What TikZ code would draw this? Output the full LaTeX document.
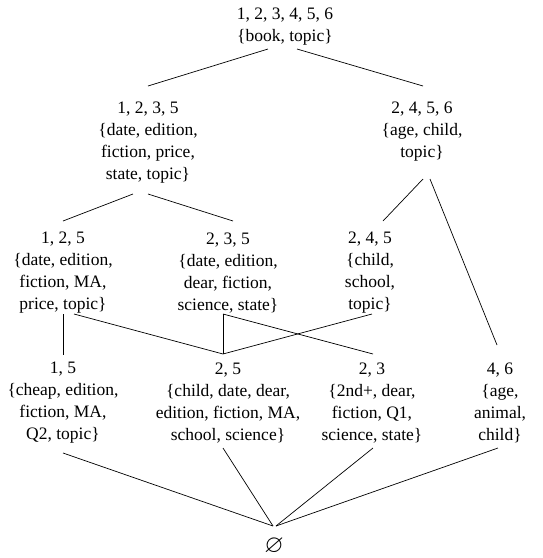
\documentclass[tikz,border=0pt]{standalone}
\usepackage{fontspec}
\usepackage{amssymb}
\setmainfont{Liberation Serif}
\begin{document}
\begin{tikzpicture}[x=1pt,y=-1pt,
  lat/.style={align=center,inner sep=0pt,font=\fontsize{17.5}{22}\selectfont},
  edge/.style={draw=black,line width=0.7pt}]
\useasboundingbox (0,0) rectangle (543,558);
\node[lat] (top) at (285,27) {1, 2, 3, 4, 5, 6\\\{book, topic\}};
\node[lat] (a) at (148,143) {1, 2, 3, 5\\\{date, edition,\\fiction, price,\\state, topic\}};
\node[lat] (b) at (422,132) {2, 4, 5, 6\\\{age, child,\\topic\}};
\node[lat] (c) at (63,273) {1, 2, 5\\\{date, edition,\\fiction, MA,\\price, topic\}};
\node[lat] (d) at (228,273) {2, 3, 5\\\{date, edition,\\dear, fiction,\\science, state\}};
\node[lat] (e) at (370,273) {2, 4, 5\\\{child,\\school,\\topic\}};
\node[lat] (f) at (63,403) {1, 5\\\{cheap, edition,\\fiction, MA,\\Q2, topic\}};
\node[lat] (g) at (228,403) {2, 5\\\{child, date, dear,\\edition, fiction, MA,\\school, science\}};
\node[lat] (h) at (372,403) {2, 3\\\{2nd+, dear,\\fiction, Q1,\\science, state\}};
\node[lat] (i) at (500,403) {4, 6\\\{age,\\animal,\\child\}};
\node[lat,font=\fontsize{25}{25}\selectfont] (z) at (274,546) {$\varnothing$};
\draw[edge] ([shift={(-17,22)}]top.center) -- ([shift={(0,-57)}]a.center);
\draw[edge] ([shift={(12,22)}]top.center) -- ([shift={(1,-46)}]b.center);
\draw[edge] ([shift={(-15,51)}]a.center) -- ([shift={(0,-52)}]c.center);
\draw[edge] ([shift={(0,51)}]a.center) -- ([shift={(5,-52)}]d.center);
\draw[edge] ([shift={(1,47)}]b.center) -- ([shift={(13,-52)}]e.center);
\draw[edge] ([shift={(8,47)}]b.center) -- ([shift={(-3,-58)}]i.center);
\draw[edge] ([shift={(0,41)}]c.center) -- ([shift={(0,-48)}]f.center);
\draw[edge] ([shift={(11,41)}]c.center) -- ([shift={(-5,-49)}]g.center);
\draw[edge] ([shift={(-5,41)}]d.center) -- ([shift={(-5,-49)}]g.center);
\draw[edge] ([shift={(-5,41)}]d.center) -- ([shift={(1,-49)}]h.center);
\draw[edge] ([shift={(2,41)}]e.center) -- ([shift={(-5,-49)}]g.center);
\draw[edge] ([shift={(0,50)}]f.center) -- ([shift={(-1,-20)}]z.center);
\draw[edge] ([shift={(-5,45)}]g.center) -- ([shift={(-1,-20)}]z.center);
\draw[edge] ([shift={(1,45)}]h.center) -- ([shift={(2,-20)}]z.center);
\draw[edge] ([shift={(-2,45)}]i.center) -- ([shift={(2,-20)}]z.center);
\end{tikzpicture}
\end{document}
